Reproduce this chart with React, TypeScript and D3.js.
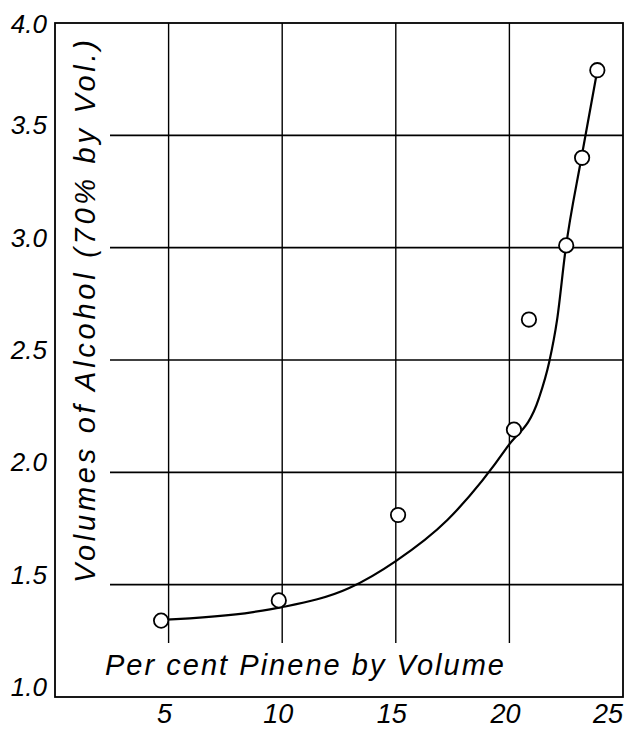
import React from "react";
import * as d3 from "d3";

const xTicks = [5, 10, 15, 20, 25];
const yTicks = [1.0, 1.5, 2.0, 2.5, 3.0, 3.5, 4.0];
const yTickLabels = ["1.0", "1.5", "2.0", "2.5", "3.0", "3.5", "4.0"];

// observed points (per cent pinene, volumes of alcohol)
const pointX = [4.67, 9.85, 15.1, 20.2, 20.86, 22.5, 23.2, 23.87];
const pointY = [1.34, 1.43, 1.81, 2.19, 2.68, 3.01, 3.40, 3.79];

// fitted curve
const curveX = [4.67, 8.72, 10.0, 12.95, 15.0, 17.27, 19.91, 21.3, 21.75, 22.1, 22.47, 23.17, 23.87];
const curveY = [1.343, 1.378, 1.40, 1.485, 1.605, 1.788, 2.113, 2.33, 2.49, 2.68, 2.99, 3.40, 3.79];

const xTitle = "Per cent Pinene by Volume";
const yTitle = "Volumes of Alcohol (70% by Vol.)";

const W = 627;
const H = 730;
const left = 55;
const right = 623;
const top = 23;
const bottom = 697;

export default function App() {
  const x = d3.scaleLinear().domain([0, 25]).range([left, right]);
  const y = d3.scaleLinear().domain([1, 4]).range([bottom, top]);

  const line = d3
    .line<number>()
    .x((_, i) => x(curveX[i]))
    .y((d) => y(d))
    .curve(d3.curveMonotoneX);

  const font = "'Liberation Sans', Arial, sans-serif";

  return (
    <svg
      width={W}
      height={H}
      style={{ position: "absolute", left: 0, top: 0, background: "#fff" }}
    >
      {/* horizontal grid lines */}
      {yTicks
        .filter((v) => v > 1 && v < 4)
        .map((v) => (
          <line
            key={"h" + v}
            x1={110}
            x2={right}
            y1={y(v)}
            y2={y(v)}
            stroke="#000"
            strokeWidth={1.6}
          />
        ))}
      {/* vertical grid lines */}
      {xTicks
        .filter((v) => v < 25)
        .map((v) => (
          <line
            key={"v" + v}
            x1={x(v)}
            x2={x(v)}
            y1={top}
            y2={643}
            stroke="#000"
            strokeWidth={1.4}
          />
        ))}
      {/* frame */}
      <rect
        x={left}
        y={top}
        width={right - left}
        height={bottom - top}
        fill="none"
        stroke="#000"
        strokeWidth={1.8}
      />
      {/* curve */}
      <path d={line(curveY) || ""} fill="none" stroke="#000" strokeWidth={2.2} />
      {/* points */}
      {pointX.map((px, i) => (
        <circle
          key={"p" + i}
          cx={x(px)}
          cy={y(pointY[i])}
          r={7.2}
          fill="#fff"
          stroke="#000"
          strokeWidth={1.8}
        />
      ))}
      {/* y tick labels */}
      {yTicks.map((v, i) => (
        <text
          key={"yl" + v}
          x={47}
          y={v === 4 ? y(v) + 10 : y(v) - 1}
          textAnchor="end"
          fontFamily={font}
          fontStyle="italic"
          fontSize={26}
          fill="#000"
        >
          {yTickLabels[i]}
        </text>
      ))}
      {/* x tick labels */}
      {xTicks.map((v) => (
        <text
          key={"xl" + v}
          x={v === 25 ? x(v) - 15 : x(v) - 4}
          y={723}
          textAnchor="middle"
          fontFamily={font}
          fontStyle="italic"
          fontSize={27}
          fill="#000"
        >
          {String(v)}
        </text>
      ))}
      {/* x title */}
      <text
        x={105}
        y={675}
        fontFamily={font}
        fontStyle="italic"
        fontSize={29}
        textLength={399}
        lengthAdjust="spacing"
        fill="#000"
      >
        {xTitle}
      </text>
      {/* y title */}
      <text
        transform="translate(95,583) rotate(-90)"
        fontFamily={font}
        fontStyle="italic"
        fontSize={29}
        textLength={543}
        lengthAdjust="spacing"
        fill="#000"
      >
        {yTitle}
      </text>
    </svg>
  );
}
